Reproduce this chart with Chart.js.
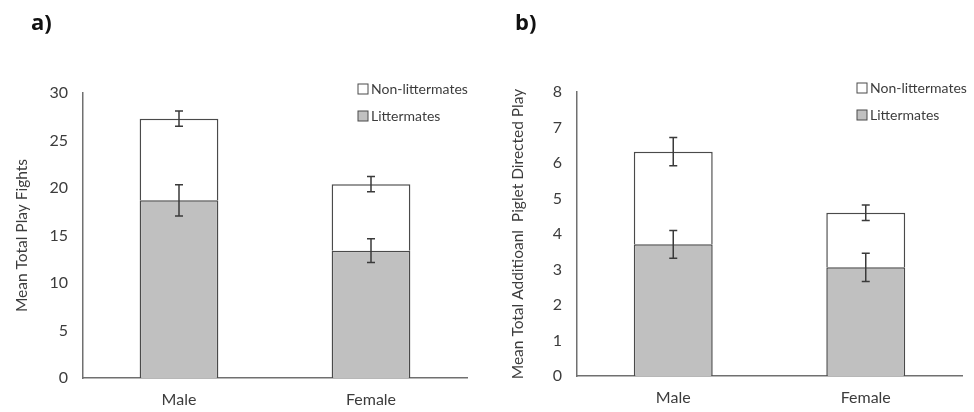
<!DOCTYPE html>
<html lang="en">
<head>
<meta charset="UTF-8">
<title>Play fights</title>
<script src="https://cdn.jsdelivr.net/npm/chart.js"></script>
<style>
    body { margin: 0; background: #fff; width: 974px; height: 412px; position: relative; overflow: hidden; }
    .painel { position: absolute; top: 0; width: 487px; height: 412px; }
    .letra { position: absolute; top: 6px; font: bold 22px "Open Sans", sans-serif; color: #111; }
</style>
</head>
<body>

<div class="painel" style="left:0"><canvas id="graficoA" width="487" height="412"></canvas></div>
<div class="painel" style="left:487px"><canvas id="graficoB" width="487" height="412"></canvas></div>
<div class="letra" style="left:31px">a)</div>
<div class="letra" style="left:515px">b)</div>

<script>
    // dados
    const categorias = ['Male', 'Female'];
    const series = ['Littermates', 'Non-littermates'];

    // painel a) - play fights
    const lutasLitter = [18.7, 13.4];
    const lutasNonLitter = [8.6, 7.0];
    const erroLutasLitter = [1.65, 1.25];
    const erroLutasTotal = [0.8, 0.8];
    const ticksA = [0, 5, 10, 15, 20, 25, 30];

    // painel b) - piglet directed play
    const brincLitter = [3.71, 3.06];
    const brincNonLitter = [2.61, 1.54];
    const erroBrincLitter = [0.39, 0.40];
    const erroBrincTotal = [0.40, 0.22];
    const ticksB = [0, 1, 2, 3, 4, 5, 6, 7, 8];

    const corTexto = '#3c3c3c';
    const corBorda = '#4a4a4a';
    const fonte = 'Lato, "Open Sans", sans-serif';

    // barras de erro no topo de cada segmento empilhado
    const pluginErro = {
        id: 'barrasErro',
        afterDatasetsDraw(chart, args, opts) {
            const ctx = chart.ctx;
            const y = chart.scales.y;
            const ds = chart.data.datasets;
            ctx.save();
            ctx.strokeStyle = '#3a3a3a';
            ctx.lineWidth = 1.5;
            for (let i = 0; i < ds.length; i++) {
                const meta = chart.getDatasetMeta(i);
                for (let j = 0; j < ds[i].data.length; j++) {
                    let topo = 0;
                    for (let k = 0; k <= i; k++) topo += ds[k].data[j];
                    const e = opts.erros[i][j];
                    const x = meta.data[j].x;
                    const y1 = y.getPixelForValue(topo + e);
                    const y2 = y.getPixelForValue(topo - e);
                    ctx.beginPath();
                    ctx.moveTo(x, y1); ctx.lineTo(x, y2);
                    ctx.moveTo(x - 4, y1); ctx.lineTo(x + 4, y1);
                    ctx.moveTo(x - 4, y2); ctx.lineTo(x + 4, y2);
                    ctx.stroke();
                }
            }
            ctx.restore();
        }
    };

    // legenda no canto superior direito, ordem invertida
    const pluginLegenda = {
        id: 'legendaCanto',
        afterDraw(chart, args, opts) {
            const ctx = chart.ctx;
            const ds = chart.data.datasets;
            const x0 = chart.chartArea.right - opts.recuo;
            let y0 = chart.chartArea.top - 4;
            ctx.save();
            ctx.font = '14px ' + fonte;
            ctx.textBaseline = 'middle';
            for (let i = ds.length - 1; i >= 0; i--) {
                ctx.fillStyle = ds[i].backgroundColor;
                ctx.fillRect(x0 - 5, y0 - 5, 10, 10);
                ctx.strokeStyle = corBorda;
                ctx.lineWidth = 1;
                ctx.strokeRect(x0 - 5, y0 - 5, 10, 10);
                ctx.fillStyle = corTexto;
                ctx.fillText(ds[i].label, x0 + 8, y0);
                y0 += 27;
            }
            ctx.restore();
        }
    };

    function criarGrafico(id, litter, nonLitter, erroL, erroT, ticks, tituloY, padEsq, larguraY, topo, base, direita, recuo) {
        const dados = {
            labels: categorias,
            datasets: [{
                label: series[0],
                data: litter,
                backgroundColor: '#c0c0c0',
                borderColor: corBorda,
                borderWidth: 1.5,
                barPercentage: 0.41,
                categoryPercentage: 1
            }, {
                label: series[1],
                data: nonLitter,
                backgroundColor: '#ffffff',
                borderColor: corBorda,
                borderWidth: 1.5,
                barPercentage: 0.41,
                categoryPercentage: 1
            }]
        };

        const config = {
            type: 'bar',
            data: dados,
            options: {
                responsive: false,
                animation: false,
                layout: { padding: { left: padEsq, top: topo, right: direita, bottom: 0 } },
                plugins: {
                    legend: { display: false },
                    tooltip: { enabled: false },
                    barrasErro: { erros: [erroL, erroT] },
                    legendaCanto: { recuo: recuo }
                },
                scales: {
                    x: {
                        stacked: true,
                        grid: { display: false, drawTicks: false },
                        border: { color: '#707070', width: 1.5 },
                        ticks: { color: corTexto, font: { family: fonte, size: 16 }, padding: 12 },
                        afterFit(s) { s.height = 412 - base; }
                    },
                    y: {
                        stacked: true,
                        min: ticks[0],
                        max: ticks[ticks.length - 1],
                        afterBuildTicks(s) { s.ticks = ticks.map(v => ({ value: v })); },
                        grid: { display: false, drawTicks: false },
                        border: { color: '#707070', width: 1.5 },
                        ticks: { color: corTexto, font: { family: fonte, size: 16 }, padding: 15 },
                        title: {
                            display: true,
                            text: tituloY,
                            color: corTexto,
                            font: { family: fonte, size: 15.5 },
                            padding: 0
                        },
                        afterFit(s) { s.width = larguraY; }
                    }
                }
            },
            plugins: [pluginErro, pluginLegenda]
        };

        return new Chart(document.getElementById(id), config);
    }

    criarGrafico('graficoA', lutasLitter, lutasNonLitter, erroLutasLitter, erroLutasTotal, ticksA,
        'Mean Total Play Fights', 13, 70, 93, 378, 20, 104);
    criarGrafico('graficoB', brincLitter, brincNonLitter, erroBrincLitter, erroBrincTotal, ticksB,
        'Mean Total Additioanl  Piglet Directed Play', 22, 68, 92, 376, 12, 100);
</script>
</body>
</html>
